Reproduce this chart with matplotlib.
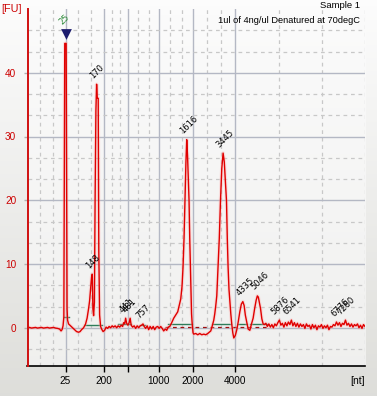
import matplotlib
matplotlib.use("Agg")
import matplotlib.pyplot as plt
import numpy as np

plt.rcParams["font.family"] = ["Liberation Sans", "DejaVu Sans"]

# Electropherogram trace: (migration position, fluorescence [FU])
trace_pts = [
    (28, 0.0), (30, 0.05), (32, -0.05), (34, 0.0), (36, 0.05), (38, -0.05),
    (40, 0.0), (42, 0.05), (44, -0.05), (46, 0.0), (48, 0.05), (50, -0.05),
    (52, 0.0), (54, 0.05), (56, -0.05), (58, -0.1), (60, -0.2), (61.5, -0.5),
    (62.5, -0.3), (63.5, 0.3), (64.3, 1.7), (64.8, 24), (65.2, 44.6),
    (66.6, 44.6), (67.0, 24), (67.5, 3), (68, 1.2), (69, 0.6), (71, 0.3),
    (73, 0.0), (75, -0.3), (77, -0.6), (79, -0.7), (80.5, -0.6), (82, -0.3),
    (84, 0.0), (86, 0.6), (87.5, 1.5), (89, 3.0), (90, 4.2), (91, 6.0),
    (92, 8.0), (92.7, 8.4), (93.3, 3.0), (94, 1.9), (94.8, 4.0), (95.5, 20),
    (96.3, 34), (97, 38.2), (97.7, 36), (98.6, 36), (99.2, 12), (100, 2.0),
    (101, 0.2), (102, -0.2), (103.5, -0.6), (105, -0.4), (106.5, 0.1),
    (108, -0.1), (109.5, 0.2), (111, 0.0), (112.5, 0.3), (114, 0.1),
    (115.5, 0.3), (117, 0.0), (118.5, 0.3), (120, 0.1), (121.5, 0.4),
    (123, 0.2), (124, 0.8), (125, 0.6), (126, 1.5), (127, 0.7), (128.3, 0.4),
    (129.5, 0.8), (130.5, 1.5), (131.5, 0.4), (133, 0.1), (134.5, 0.3),
    (136, -0.1), (137.5, 0.3), (139, 0.0), (140.5, 0.3), (142, 0.4),
    (143.3, 0.6), (144.5, 0.2), (146, -0.1), (147.5, 0.3), (149, -0.3),
    (150.5, 0.2), (152, -0.2), (153.5, 0.2), (155, -0.3), (156.5, 0.1),
    (158, 0.2), (159.5, -0.1), (161, 0.2), (162.5, -0.1), (164, -0.5),
    (165.5, -0.2), (167, -0.4), (168.5, 0.1), (170, 0.2), (172, 0.8),
    (174, 1.5), (176, 2.0), (178, 2.5), (179.5, 3.5), (181, 4.5),
    (182.3, 6.5), (183.3, 9.5), (184.3, 14), (185.3, 20), (186.2, 26),
    (187, 29.5), (187.8, 27), (188.6, 23), (189.3, 20), (190, 14),
    (190.7, 9.5), (191.3, 5), (191.8, 2.2), (192.5, 0.5), (193.3, -0.8),
    (194, -1.0), (196, -0.9), (198, -1.1), (200, -0.9), (202, -1.1),
    (204, -1.0), (206, -1.1), (208, -0.9), (209.5, -0.7), (211, -0.5),
    (212.5, 0.3), (214, 1.2), (215, 2.2), (216, 3.5), (217, 5), (218.3, 9.5),
    (219.5, 14), (220.7, 19.9), (222, 25), (223.3, 27.4), (224.5, 26),
    (225.7, 22.5), (226.7, 19.9), (227.5, 14), (228.3, 9.5), (229.2, 6),
    (230, 4.3), (231, 2.2), (232, 0.5), (233, -0.8), (234, -1.6),
    (235.5, -1.2), (237, -0.3), (238.5, 1.0), (240, 2.5), (241.5, 3.7),
    (243, 4.1), (244.3, 3.5), (245.5, 2.0), (247, 0.8), (248.3, -0.2),
    (250, -0.4), (251.5, 0.5), (253.3, 1.5), (254.8, 3.0), (256.3, 4.3),
    (257.5, 5.0), (258.5, 4.8), (259.5, 4.0), (260.7, 3.0), (262, 1.4),
    (263.3, 0.6), (264.5, 0.5), (266, 0.7), (267.5, 0.2), (269, 0.6),
    (270.5, 0.1), (272, 0.5), (273.5, 0.0), (275, 0.6), (276.5, 0.3),
    (278, 0.8), (279.5, 1.2), (281, 0.4), (282.5, 0.7), (284, 0.1),
    (285.5, 0.8), (287, 0.3), (288.5, 0.9), (290, 0.5), (291.5, 1.2),
    (293, 0.3), (294.5, 0.8), (296, 0.2), (297.5, 0.7), (299, 0.1),
    (300.5, 0.6), (302, 0.2), (303.5, 0.5), (305, -0.1), (306.5, 0.6),
    (308, 0.2), (309.5, 0.4), (311, -0.2), (312.5, 0.5), (314, 0.0),
    (315.5, 0.4), (317, -0.3), (318.5, 0.3), (320, 0.1), (321.5, 0.5),
    (323, -0.1), (324.5, 0.3), (326, 0.0), (327.5, 0.4), (329, -0.3),
    (330.5, 0.2), (332, 0.1), (333.5, 0.5), (335, 0.3), (336.5, 0.9),
    (338, 0.4), (339.5, 0.8), (341, 0.2), (342.5, 0.7), (344, 0.5),
    (345.5, 1.2), (347, 0.4), (348.5, 0.7), (350, 0.2), (351.5, 0.6),
    (353, 0.1), (354.5, 0.5), (356, 0.3), (357.5, 0.6), (359, 0.0),
    (360.5, 0.4), (362, -0.1), (363.5, 0.5), (365, 0.2),
]

# Called peaks (size in nt) with their position and height
peak_sizes = ["441", "481", "757", "148", "170", "1616", "3445",
              "4335", "5046", "5876", "6541", "6776", "7260"]
peak_pos = [126, 129.5, 143.3, 92.7, 97, 187, 223.3,
            243, 257.5, 278, 290, 338, 344]
peak_fu = [1.5, 1.5, 0.6, 8.4, 38.2, 29.5, 27.4,
           4.1, 5.0, 1.2, 1.2, 0.9, 1.2]

# Lower marker
marker_label = "25"
marker_pos = 66
marker_fu = 46.1

# Ladder positions on the migration axis and their size labels
ladder_pos = [28, 66, 104.3, 128.3, 159.3, 193.3, 235.3, 365.3]
ladder_labels = ["", "25", "200", "", "1000", "2000", "4000", ""]

# Peak baselines drawn by the software (start, end, level)
baseline_segs = [(64.3, 69, 1.7), (85.7, 102.3, 0.5), (118.3, 131.7, 0.55),
                 (140, 145.7, 0.5), (168, 192.3, 0.6), (212.7, 231, 0.6),
                 (237.7, 247.3, 0.6), (250, 266.7, 0.6)]

W, H = 377, 396
fig = plt.figure(figsize=(W / 100, H / 100), dpi=100)

# background gradient for the whole window
bg = fig.add_axes([0, 0, 1, 1], zorder=-10)
grad = np.linspace(0, 1, 256).reshape(-1, 1)
top_c = np.array([0.99, 0.99, 0.99])
bot_c = np.array([0.87, 0.87, 0.855])
img = top_c + (bot_c - top_c) * grad[:, :, None]
bg.imshow(img, aspect="auto", extent=[0, 1, 0, 1])
bg.axis("off")

ax = fig.add_axes([27.5 / W, 30 / H, (365.3 - 27.5) / W, (387 - 30) / H])
ax.set_facecolor("none")
p_top = np.array([0.985, 0.985, 0.985])
p_bot = np.array([0.94, 0.94, 0.935])
pimg = p_top + (p_bot - p_top) * grad[:, :, None]
ax.imshow(pimg, aspect="auto", extent=[0, 1, 0, 1], transform=ax.transAxes,
          zorder=0)

x_lo, x_hi = 28, 365.3
y_lo, y_hi = -6, 50

# grid: solid at majors, dashed at thirds in between
major_c = "#b4b8c4"
minor_c = "#c8c8c8"
for a, b in zip(ladder_pos[:-1], ladder_pos[1:]):
    for f in (1 / 3, 2 / 3):
        ax.axvline(a + (b - a) * f, color=minor_c, lw=0.9, ls=(0, (3, 3)), zorder=1)
for p in ladder_pos[1:-1]:
    ax.axvline(p, color=major_c, lw=1.0, zorder=1)
ax.axvline(ladder_pos[-1], color=minor_c, lw=0.9, ls=(0, (3, 3)), zorder=1)
for v in np.arange(-10, 50, 10):
    for f in (10 / 3, 20 / 3):
        ax.axhline(v + f, color=minor_c, lw=0.9, ls=(0, (3, 3)), zorder=1)
for v in [0, 10, 20, 30, 40]:
    ax.axhline(v, color=major_c, lw=1.0, zorder=1)

tx = [p[0] for p in trace_pts]
ty = [p[1] for p in trace_pts]

# baselines
for x0, x1, lvl in baseline_segs:
    ax.plot([x0, x1], [lvl, lvl], color="#2e7d5a", lw=1.0, zorder=3)
ax.plot([165, 268], [0.15, 0.15], color="#a01010", lw=0.9, ls=(0, (3, 3)), zorder=3)

# trace with soft glow
ax.plot(tx, ty, color="#ffb0b0", lw=2.6, alpha=0.35, zorder=4,
        solid_joinstyle="round")
ax.plot(tx, ty, color="#e00000", lw=1.0, zorder=5)

# peak labels
for s, px, py in zip(peak_sizes, peak_pos, peak_fu):
    ax.annotate(s, (px, py), xytext=(-2, 4), textcoords="offset pixels",
                rotation=45, rotation_mode="anchor", ha="left", va="bottom",
                fontsize=6.0, color="black", family="DejaVu Sans", zorder=6)

# marker triangle and label
ax.scatter([marker_pos], [marker_fu], marker="v", s=60, color="#1c1c6e",
           zorder=7, linewidths=0)
ax.annotate(marker_label, (marker_pos, marker_fu), xytext=(-2, 7),
            textcoords="offset pixels", rotation=45, rotation_mode="anchor",
            ha="left", va="bottom", fontsize=6.0, color="#2e8b3a",
            family="DejaVu Sans", zorder=7)

ax.set_xlim(x_lo, x_hi)
ax.set_ylim(y_lo, y_hi)

ax.set_xticks(ladder_pos[1:-1])
ax.set_xticklabels(ladder_labels[1:-1], fontsize=7.2)
ax.set_yticks([0, 10, 20, 30, 40])
ax.set_yticklabels(["0", "10", "20", "30", "40"], fontsize=7.2, color="#cc0000")
ax.tick_params(axis="x", length=4, width=1, color="black", pad=3)
ax.tick_params(axis="y", length=3, width=1, color="#b0b0b0", pad=5)

for side in ("top", "right"):
    ax.spines[side].set_visible(False)
ax.spines["left"].set_color("#d01010")
ax.spines["left"].set_linewidth(1.4)
ax.spines["bottom"].set_color("black")
ax.spines["bottom"].set_linewidth(1.2)
ax.spines["left"].set_zorder(8)

fig.text(1 / W, 1 - 9 / H, "[FU]", color="#cc0000", fontsize=7.8,
         ha="left", va="center")
fig.text(365 / W, 15 / H, "[nt]", color="black", fontsize=7.5,
         ha="right", va="center")
fig.text(360 / W, 1 - 6 / H, "Sample 1", fontsize=6.8, ha="right", va="center")
fig.text(360 / W, 1 - 20.5 / H, "1ul of 4ng/ul Denatured at 70degC",
         fontsize=6.7, ha="right", va="center")

fig.savefig("out.png", dpi=100)
